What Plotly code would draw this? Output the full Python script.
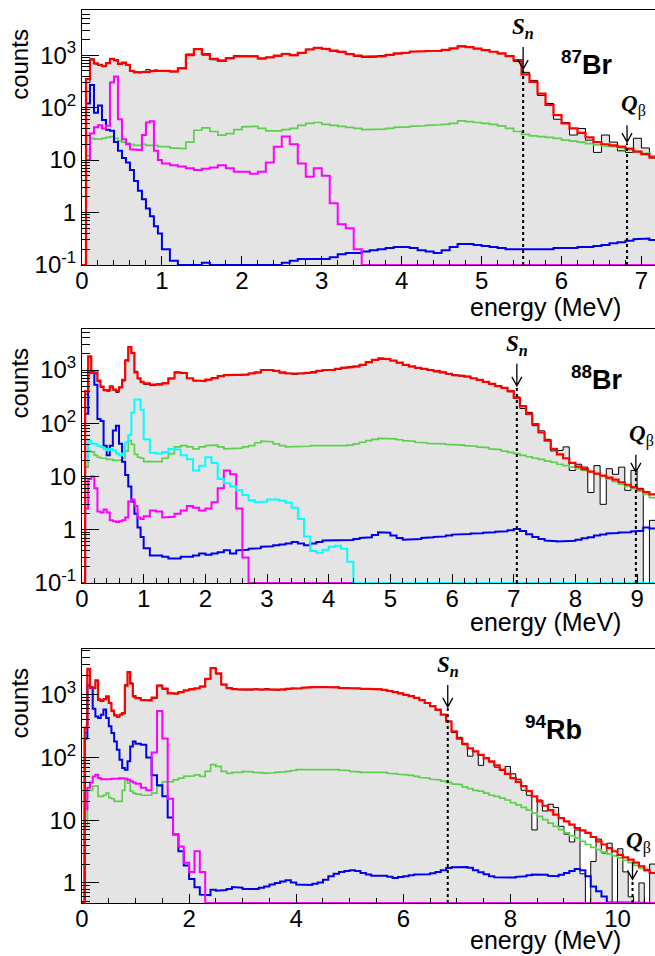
import numpy as np
import plotly.graph_objects as go

SANS = "Liberation Sans, Arial, Helvetica, sans-serif"
SERIF = "Liberation Serif, Times New Roman, serif"

# ---------------- 87Br ----------------
br87_xmax = 7.17
br87_red = [0, 350, 820, 700, 650, 620, 700, 850, 800, 680, 720, 650, 500, 470, 470, 480, 480, 500, 510, 500,
            500, 490, 560, 1000, 1300, 1050, 850, 780, 880, 950,
            970, 950, 870, 900, 980, 1050, 1000, 1100, 1280, 1380,
            1320, 1220, 1150, 1050, 980, 940, 930, 960, 1010, 1070,
            1110, 1160, 1190, 1200, 1210, 1260, 1350, 1470, 1420, 1330,
            1250, 1160, 1080, 960, 800, 430, 310, 185, 112, 72,
            50, 40, 33, 27, 22, 20, 19, 18, 16.5, 14.5,
            13, 11.3]
br87_data = [0, 300, 850, 680, 660, 600, 720, 860, 780, 700, 700, 640, 490, 480, 460, 490, 530, 490, 520, 490,
             510, 480, 570, 1050, 1320, 1000, 820, 800, 860, 980,
             950, 960, 850, 920, 960, 1080, 980, 1110, 1300, 1360,
             1330, 1200, 1170, 1020, 950, 900, 920, 980, 1000, 1090,
             1100, 1180, 1170, 1230, 1190, 1280, 1330, 1500, 1400, 1340,
             1230, 1170, 1060, 980, 760, 470, 330, 170, 120, 60,
             52, 30, 40, 24, 14, 30, 22, 15, 14, 26,
             17, 11]
br87_green = [0, 12, 26, 25, 25, 26, 27, 28, 26, 23, 22, 21, 20, 19, 19, 20, 19, 19, 19, 18,
              18, 17, 16.5, 22, 37, 41, 35, 30, 32, 38,
              43, 44, 40, 36, 36, 38, 40, 46, 50, 52,
              48, 46, 44, 42, 40, 38, 38, 39, 40, 42,
              43, 44, 45, 46, 47, 48, 50, 56, 54, 52,
              50, 48, 45, 40, 35, 31, 29, 28, 27, 26,
              24, 23, 22, 20.5, 19.5, 18.5, 18, 17, 15.6, 14.5,
              13.4, 12]
br87_magenta = [0, 10, 32, 42, 46, 40, 45, 300, 390, 60, 25, 20, 16, 15.5, 15.5, 30, 52, 55, 15, 10,
                8.6, 8, 7.5, 7, 6.5, 6.8, 7.2, 8, 7, 6,
                6, 5.5, 6, 9, 18, 28, 20, 8.6, 4.8, 7,
                5, 1.5, 0.6, 0.5, 0.2, 0, 0, 0, 0, 0,
                0, 0, 0, 0, 0, 0, 0, 0, 0, 0,
                0, 0, 0, 0, 0, 0, 0, 0, 0, 0,
                0, 0, 0, 0, 0, 0, 0, 0, 0, 0,
                0, 0]
br87_blue = [0, 120, 270, 80, 110, 58, 38, 36, 22, 15, 11, 9, 6.5, 4, 2.6, 1.8, 1.2, 0.85, 0.55, 0.4,
             0.2, 0.12, 0.1, 0.09, 0.09, 0.11, 0.09, 0.1, 0.1, 0.1,
             0.1, 0.1, 0.1, 0.1, 0.1, 0.11, 0.12, 0.13, 0.13, 0.13,
             0.13, 0.14, 0.16, 0.17, 0.17, 0.18, 0.19, 0.2, 0.21, 0.22,
             0.22, 0.21, 0.19, 0.18, 0.17, 0.19, 0.22, 0.25, 0.25, 0.24,
             0.23, 0.22, 0.21, 0.2, 0.2, 0.2, 0.2, 0.2, 0.2, 0.21,
             0.21, 0.21, 0.22, 0.22, 0.23, 0.24, 0.26, 0.27, 0.29, 0.31,
             0.32, 0.3]

# ---------------- 88Br ----------------
br88_xmax = 9.29
br88_red = [0, 400, 1800, 880, 900, 630, 490, 420, 420, 490, 430, 400, 470, 650, 1500, 2700, 2100, 900, 700, 600,
            560, 530, 530, 560, 700, 900, 880, 700, 640, 620,
            660, 700, 770, 800, 820, 800, 820, 860, 900, 1000,
            1000, 960, 900, 860, 840, 860, 880, 900, 960, 1000,
            1000, 1050, 1100, 1130, 1170, 1250, 1400, 1550, 1640, 1600,
            1500, 1380, 1250, 1170, 1100, 1050, 1000, 950, 900, 850,
            800, 780, 750, 700, 650, 600, 550, 500, 460, 400,
            300, 210, 150, 96, 67, 47, 33, 26, 22, 18,
            15.3, 13.8, 12.3, 11.3, 10.4, 9.5, 8.7, 7.8, 7, 6.3,
            5.7, 5.1, 4.6]
br88_data = [0, 350, 1700, 950, 850, 600, 470, 430, 400, 500, 420, 380, 480, 620, 1550, 2650, 2050, 950, 680, 580,
             540, 510, 550, 570, 680, 920, 860, 690, 620, 640,
             650, 720, 760, 810, 800, 790, 830, 870, 890, 1010,
             980, 970, 880, 870, 830, 870, 860, 920, 950, 1020,
             990, 1060, 1090, 1150, 1160, 1270, 1380, 1560, 1680, 1580,
             1510, 1360, 1260, 1150, 1110, 1030, 1010, 930, 910, 840,
             810, 770, 760, 690, 660, 590, 560, 490, 470, 390,
             310, 190, 160, 90, 72, 50, 30, 31, 36, 13,
             17, 15, 5, 16, 3, 14, 11, 15, 5.5, 13,
             6, 0, 1.5]
br88_green = [0, 15, 30, 29, 25, 23, 22, 22, 21, 21, 20, 20, 20, 22, 30, 47, 40, 26, 23, 22,
              19, 18.5, 19, 22, 27, 36, 38, 36, 33, 36,
              38, 39, 36, 33, 33, 34, 36, 38, 43, 46,
              45, 41, 38, 36, 36, 37, 37, 38, 38, 38,
              37, 38, 38, 39, 41, 44, 47, 50, 52, 52,
              51, 49, 47, 46, 44, 43, 42, 42, 41, 40,
              40, 39, 38, 37, 36, 35, 33, 32, 30, 28.5,
              27, 25, 23.5, 22, 21, 19.5, 18.5, 17, 16, 15,
              14, 13, 12.3, 11, 10, 9, 8, 7.2, 6.5, 5.9,
              5.3, 4.6, 4]
br88_cyan = [0, 20, 47, 41, 41, 38, 36, 33, 31, 33, 31, 27, 25, 27, 44, 60, 160, 280, 280, 180,
             50, 28, 27, 29, 33, 32, 25, 21, 13, 16,
             23, 18, 9, 7.5, 6.5, 5.5, 4.5, 3.6, 3.3, 3.4,
             3.7, 3.7, 3.5, 3.2, 2.6, 1.6, 0.75, 0.4, 0.37, 0.42,
             0.48, 0.5, 0.44, 0.25, 0, 0, 0, 0, 0, 0,
             0, 0, 0, 0, 0, 0, 0, 0, 0, 0,
             0, 0, 0, 0, 0, 0, 0, 0, 0, 0,
             0, 0, 0, 0, 0, 0, 0, 0, 0, 0,
             0, 0, 0, 0, 0, 0, 0, 0, 0, 0,
             0, 0, 0]
br88_magenta = [0, 2.5, 9, 10, 6, 2.2, 2.1, 2.4, 2.1, 1.5, 1.45, 1.4, 1.45, 1.5, 1.7, 3.4, 3.7, 2.8, 1.7, 1.6,
                1.8, 2.3, 2.2, 1.7, 1.75, 2.0, 2.3, 2.8, 2.6, 2.3,
                2.5, 3.3, 6.0, 13, 11, 2.5, 0.3, 0, 0, 0,
                0, 0, 0, 0, 0, 0, 0, 0, 0, 0,
                0, 0, 0, 0, 0, 0, 0, 0, 0, 0,
                0, 0, 0, 0, 0, 0, 0, 0, 0, 0,
                0, 0, 0, 0, 0, 0, 0, 0, 0, 0,
                0, 0, 0, 0, 0, 0, 0, 0, 0, 0,
                0, 0, 0, 0, 0, 0, 0, 0, 0, 0,
                0, 0, 0]
br88_blue = [0, 150, 900, 900, 530, 120, 110, 38, 25, 38, 73, 90, 41, 19, 10.7, 6.5, 3.4, 2, 1.1, 0.73,
             0.45, 0.33, 0.33, 0.31, 0.29, 0.29, 0.31, 0.31, 0.33, 0.36,
             0.34, 0.36, 0.38, 0.41, 0.36, 0.41, 0.42, 0.44, 0.45, 0.48,
             0.49, 0.51, 0.53, 0.55, 0.59, 0.55, 0.51, 0.55, 0.59, 0.63,
             0.64, 0.62, 0.62, 0.64, 0.67, 0.7, 0.72, 0.8, 0.9, 0.88,
             0.78, 0.7, 0.65, 0.66, 0.67, 0.7, 0.72, 0.73, 0.75, 0.78,
             0.81, 0.82, 0.83, 0.85, 0.86, 0.88, 0.9, 0.92, 0.94, 0.98,
             1.03, 0.95, 0.82, 0.73, 0.67, 0.63, 0.61, 0.6, 0.6, 0.62,
             0.65, 0.69, 0.72, 0.78, 0.81, 0.85, 0.87, 0.89, 0.9, 0.93,
             0.96, 1.1, 1.05]

# ---------------- 94Rb ----------------
rb94_xmax = 10.7
rb94_red = [0, 300, 2600, 1300, 1300, 1700, 830, 800, 850, 940, 740, 560, 470, 450, 480, 510, 1400, 2300, 1500, 950,
            880, 830, 810, 900, 1400, 1250, 1050, 1050, 1100, 1180,
            1220, 1270, 1350, 1800, 2650, 2200, 1450, 1280, 1230, 1220,
            1200, 1210, 1220, 1220, 1230, 1220, 1200, 1210, 1240, 1260,
            1270, 1290, 1320, 1330, 1330, 1330, 1330, 1310, 1290, 1280,
            1270, 1260, 1250, 1250, 1240, 1220, 1200, 1150, 1100, 1050,
            1000, 950, 890, 820, 740, 660, 580, 480, 375, 260,
            200, 165, 140, 125, 110, 98, 87, 75, 64, 55,
            47, 41, 35, 29, 24, 20, 17, 14.5, 12.3, 10.8,
            9.6, 8.5, 7.5, 6.9, 6.3, 5.4, 4.6, 4.1, 3.6, 3.2,
            2.8, 2.55, 2.35, 2.1, 1.84, 1.62, 1.44]
rb94_data = [0, 250, 2500, 1350, 1250, 1650, 860, 780, 870, 900, 760, 540, 480, 440, 490, 500, 1450, 2250, 1550, 920,
             900, 820, 830, 880, 1420, 1230, 1070, 1030, 1120, 1160,
             1240, 1250, 1370, 1780, 2700, 2150, 1470, 1260, 1250, 1200,
             1220, 1190, 1240, 1200, 1250, 1210, 1180, 1230, 1220, 1280,
             1260, 1310, 1300, 1350, 1320, 1340, 1310, 1330, 1280, 1300,
             1260, 1280, 1230, 1260, 1220, 1230, 1190, 1160, 1090, 1060,
             990, 960, 880, 830, 730, 670, 570, 490, 380, 250,
             210, 160, 105, 125, 75, 100, 85, 70, 62, 72,
             55, 45, 30, 25, 7, 21, 14, 18, 16, 8,
             6, 4.5, 7, 1.4, 0, 2.2, 5, 3, 4.3, 0,
             3.5, 1.5, 0.6, 0, 1, 0, 2]
rb94_green = [0, 8, 30, 30, 35, 35, 24, 24, 25, 27, 23, 22, 20, 20, 20, 30, 44, 39, 29, 27,
              26, 25, 25, 27, 35, 41, 41, 44, 47, 50,
              51, 53, 50, 60, 77, 72, 60, 56, 58, 58,
              60, 59, 58, 57, 56, 57, 58, 59, 60, 62,
              64, 64, 64, 65, 65, 65, 65, 64, 63, 62,
              60, 59, 58, 59, 59, 58, 58, 56, 55, 54,
              53, 52, 50, 48, 47, 45, 44, 42, 40, 38,
              37, 34, 32, 30, 29, 27, 25, 24, 22.5, 21,
              19, 17.5, 16, 14.5, 13, 11.5, 10.2, 9, 8, 7.1,
              6.3, 5.7, 5.2, 4.6, 4.1, 3.7, 3.4, 3.1, 2.9, 2.7,
              2.5, 2.3, 2.1, 1.9, 1.7, 1.55, 1.44]
rb94_magenta = [0, 15, 33, 40, 50, 53, 47, 45, 44, 45, 45, 46, 45, 46, 47, 47, 46, 44, 42, 40,
                38, 33, 30, 120, 550, 200, 22, 6, 3.8, 2.1,
                1.5, 3.2, 1.5, 0, 0, 0, 0, 0, 0, 0,
                0, 0, 0, 0, 0, 0, 0, 0, 0, 0,
                0, 0, 0, 0, 0, 0, 0, 0, 0, 0,
                0, 0, 0, 0, 0, 0, 0, 0, 0, 0,
                0, 0, 0, 0, 0, 0, 0, 0, 0, 0,
                0, 0, 0, 0, 0, 0, 0, 0, 0, 0,
                0, 0, 0, 0, 0, 0, 0, 0, 0, 0,
                0, 0, 0, 0, 0, 0, 0, 0, 0, 0,
                0, 0, 0, 0, 0, 0, 0]
rb94_blue = [0, 200, 1400, 1300, 600, 450, 425, 480, 580, 425, 315, 245, 180, 133, 92, 68, 64, 87, 150, 180,
             165, 160, 100, 52, 36, 24, 11, 5.9, 3.2, 1.9,
             1.15, 0.85, 0.65, 0.64, 0.78, 0.75, 0.77, 0.8, 0.86, 0.84,
             0.8, 0.78, 0.8, 0.84, 0.88, 0.94, 1.0, 1.05, 1.1, 1.02,
             0.94, 0.92, 0.93, 0.97, 1.02, 1.12, 1.28, 1.4, 1.5, 1.55,
             1.6, 1.55, 1.44, 1.36, 1.3, 1.3, 1.3, 1.25, 1.2, 1.24,
             1.28, 1.32, 1.36, 1.37, 1.38, 1.43, 1.5, 1.6, 1.73, 1.78,
             1.8, 1.8, 1.75, 1.6, 1.48, 1.38, 1.28, 1.23, 1.2, 1.2,
             1.22, 1.25, 1.28, 1.32, 1.36, 1.36, 1.35, 1.3, 1.28, 1.35,
             1.44, 1.55, 1.67, 1.6, 1.28, 0.88, 0.74, 0.61, 0.49, 0,
             0, 0, 0, 0, 0, 0, 0]

# markers: energies (MeV) and counts level of arrow tip
sn_energy = [5.52, 7.05, 6.83]
sn_tip = [518, 483, 617]
qb_energy = [6.82, 8.98, 10.28]
qb_tip = [21, 11.7, 1.1]
isotope_mass = ["87", "88", "94"]
isotope_elem = ["Br", "Br", "Rb"]

y_log_range = [[-1, 3.86], [-1, 3.77], [-0.32, 3.73]]
ytick_vals = [[0.1, 1, 10, 100, 1000], [0.1, 1, 10, 100, 1000], [1, 10, 100, 1000]]
ytick_text = [["10<sup>-1</sup>", "1", "10", "10<sup>2</sup>", "10<sup>3</sup>"],
              ["10<sup>-1</sup>", "1", "10", "10<sup>2</sup>", "10<sup>3</sup>"],
              ["1", "10", "10<sup>2</sup>", "10<sup>3</sup>"]]
x_major = [1, 1, 2]
x_minor = [0.2, 0.2, 0.5]

C_RED = "#ff0000"
C_GREEN = "#5ccf4c"
C_BLUE = "#0000f0"
C_MAG = "#ff00ff"
C_CYAN = "#00ffff"
C_FILL = "#e4e4e4"

panels = [
    dict(xmax=br87_xmax, data=br87_data, red=br87_red,
         comps=[(br87_green, C_GREEN, 1.7), (br87_blue, C_BLUE, 2), (br87_magenta, C_MAG, 2)],
         label_pos=(0.881, 0.792), xtitle_shift=-42),
    dict(xmax=br88_xmax, data=br88_data, red=br88_red,
         comps=[(br88_green, C_GREEN, 1.7), (br88_blue, C_BLUE, 2), (br88_magenta, C_MAG, 2), (br88_cyan, C_CYAN, 2)],
         label_pos=(0.899, 0.807), xtitle_shift=-39),
    dict(xmax=rb94_xmax, data=rb94_data, red=rb94_red,
         comps=[(rb94_green, C_GREEN, 1.7), (rb94_blue, C_BLUE, 2), (rb94_magenta, C_MAG, 2)],
         label_pos=(0.822, 0.689), xtitle_shift=-37),
]

H = 956.0
W = 655.0
y_domains = [[1 - 265 / H, 1 - 10 / H], [1 - 583 / H, 1 - 329 / H], [1 - 903 / H, 1 - 649 / H]]
x_domain = [82 / W, 1.0]


def bin_edges(xmax):
    fine = np.arange(0, 1.0, 0.05)
    coarse = np.arange(1.0, xmax + 0.05, 0.1)
    return np.round(np.concatenate([fine, coarse]), 3)


def steps(edges, vals, ymin):
    v = np.maximum(np.asarray(vals, float), ymin)
    x = np.repeat(edges, 2)[1:-1]
    y = np.repeat(v, 2)
    return x, y


fig = go.Figure()
annotations = []
shapes = []

for i, p in enumerate(panels):
    n = i + 1
    xa = "x" if n == 1 else f"x{n}"
    ya = "y" if n == 1 else f"y{n}"
    ymin = 10 ** y_log_range[i][0]
    edges = bin_edges(p["xmax"])
    nb = len(edges) - 1
    for arr in [p["data"], p["red"]] + [c[0] for c in p["comps"]]:
        if len(arr) != nb:
            raise ValueError(f"panel {n}: expected {nb} bins, got {len(arr)}")
    # data: grey filled histogram
    dx, dy = steps(edges, p["data"], ymin)
    fx = np.concatenate([[edges[0]], dx, [edges[-1]]])
    fy = np.concatenate([[ymin], dy, [ymin]])
    fig.add_trace(go.Scatter(x=fx, y=fy, xaxis=xa, yaxis=ya, mode="lines", fill="toself",
                             fillcolor=C_FILL, line=dict(width=0), hoverinfo="skip", showlegend=False))
    fig.add_trace(go.Scatter(x=dx, y=dy, xaxis=xa, yaxis=ya, mode="lines",
                             line=dict(color="black", width=1), showlegend=False))
    for vals, col, w in p["comps"]:
        cx, cy = steps(edges, vals, ymin)
        fig.add_trace(go.Scatter(x=cx, y=cy, xaxis=xa, yaxis=ya, mode="lines",
                                 line=dict(color=col, width=w), showlegend=False))
    rx, ry = steps(edges, p["red"], ymin)
    fig.add_trace(go.Scatter(x=rx, y=ry, xaxis=xa, yaxis=ya, mode="lines",
                             line=dict(color=C_RED, width=2.2), showlegend=False))

    # axes
    fig.layout[f"xaxis{'' if n == 1 else n}"] = dict(
        domain=x_domain, anchor=ya, range=[0, p["xmax"]], showgrid=False, zeroline=False, automargin=False,
        showline=True, linecolor="black", linewidth=1, mirror=True,
        ticks="inside", ticklen=9, tickwidth=1, tickcolor="black", dtick=x_major[i], tick0=0,
        ticklabelstandoff=-6,
        minor=dict(ticks="inside", ticklen=5, dtick=x_minor[i], tick0=0, tickcolor="black", showgrid=False),
        tickfont=dict(family=SANS, size=24, color="black"))
    minor_vals = [m * 10.0 ** k for k in range(-1, 4) for m in range(2, 10)]
    fig.layout[f"yaxis{'' if n == 1 else n}"] = dict(
        domain=y_domains[i], anchor=xa, type="log", range=y_log_range[i], showgrid=False, zeroline=False,
        automargin=False,
        showline=True, linecolor="black", linewidth=1, mirror=True,
        ticks="inside", ticklen=17, tickwidth=1, tickcolor="black",
        tickmode="array", tickvals=ytick_vals[i], ticktext=ytick_text[i],
        minor=dict(ticks="inside", ticklen=8, tickmode="array", tickvals=minor_vals, tickcolor="black",
                   showgrid=False),
        tickfont=dict(family=SANS, size=24, color="black"))

    ydom = f"{ya} domain"
    # axis titles
    annotations.append(dict(text="counts", xref="paper", x=20 / W, yref=ydom, y=0.785, textangle=-90,
                            showarrow=False, xanchor="center", yanchor="middle",
                            font=dict(family=SANS, size=24, color="black")))
    annotations.append(dict(text="energy (MeV)", xref="paper", x=623 / W, yref=ydom, y=0,
                            yshift=p["xtitle_shift"],
                            showarrow=False, xanchor="right", yanchor="middle",
                            font=dict(family=SANS, size=25, color="black")))
    # isotope label
    annotations.append(dict(text=f"<b><sup>{isotope_mass[i]}</sup>{isotope_elem[i]}</b>",
                            xref=f"{xa} domain", x=p["label_pos"][0], yref=ydom, y=p["label_pos"][1],
                            showarrow=False, xanchor="center", yanchor="middle",
                            font=dict(family=SANS, size=27, color="black")))
    # S_n and Q_beta markers (shapes on log axes take data values; annotations take log10)
    for E, tip, txt, alen, xs in [(sn_energy[i], sn_tip[i], "<b><i>S<sub>n</sub></i></b>", 23, 0),
                                  (qb_energy[i], qb_tip[i], "<b><i>Q</i></b><sub>β</sub>", 18, 6)]:
        shapes.append(dict(type="line", xref=xa, yref=ya, x0=E, x1=E, y0=ymin, y1=tip,
                           line=dict(color="black", width=2, dash="3px,3px")))
        shapes.append(dict(type="path", xref=xa, yref=ya, xsizemode="pixel", ysizemode="pixel",
                           xanchor=E, yanchor=tip,
                           path=f"M0,2 L0,{alen} M-5,10 L0,1 L5,10",
                           line=dict(color="black", width=1.3)))
        annotations.append(dict(text=txt, xref=xa, x=E, yref=ya, y=np.log10(tip), yshift=alen + 3, xshift=xs,
                                showarrow=False, xanchor="center", yanchor="bottom",
                                font=dict(family=SERIF, size=23, color="black")))

fig.update_layout(width=655, height=956, margin=dict(l=0, r=0, t=0, b=0, autoexpand=False),
                  paper_bgcolor="white", plot_bgcolor="white",
                  annotations=annotations, shapes=shapes, showlegend=False)
fig.write_html("out.html", config={"displayModeBar": False},
               post_script="document.body.style.margin='0px';document.body.style.padding='0px';")
